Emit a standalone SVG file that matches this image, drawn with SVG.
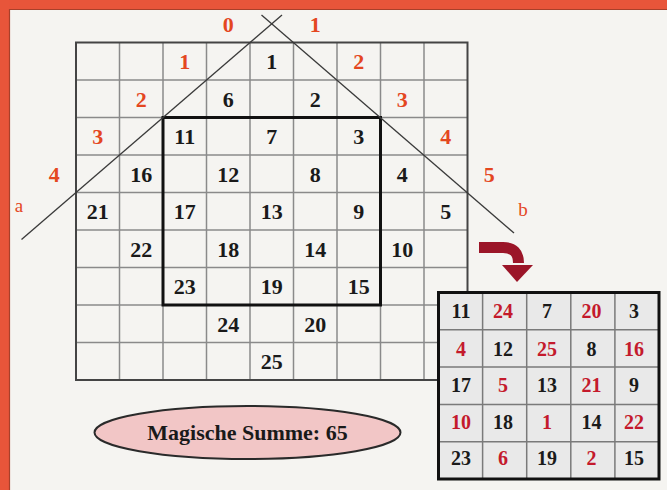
<svg xmlns="http://www.w3.org/2000/svg" width="667" height="490" viewBox="0 0 667 490">
<style>
.n{font-family:"Liberation Serif","Times New Roman",serif;font-weight:bold;font-size:22px;text-anchor:middle;fill:#1a1a1a}
.r{fill:#e4471f}
.s{font-family:"Liberation Serif","Times New Roman",serif;font-weight:bold;font-size:20px;text-anchor:middle;fill:#1a1a1a}
.sr{fill:#c41a2c}
.lbl{font-family:"Liberation Serif","Times New Roman",serif;font-size:19px;text-anchor:middle;fill:#e4471f}
.gl{stroke:#8a8a8a;stroke-width:1.5;fill:none}
.diag{stroke:#3a3a3a;stroke-width:1.3;fill:none}
</style>
<rect x="0" y="0" width="667" height="490" fill="#f5f4f1"/>
<g id="frame">
<rect x="0" y="0" width="667" height="9.5" fill="#e8553a"/>
<rect x="0" y="0" width="9.5" height="490" fill="#e8553a"/>
<path d="M9.5,490 V9.5 H667" stroke="#a8402a" stroke-width="1.2" fill="none"/>
</g>
<g id="big-grid">
<path class="gl" d="M119.5,42.5V380M163,42.5V380M206.5,42.5V380M250,42.5V380M293.5,42.5V380M337,42.5V380M380.5,42.5V380M424,42.5V380M76,80H467.5M76,117.5H467.5M76,155H467.5M76,192.5H467.5M76,230H467.5M76,267.5H467.5M76,305H467.5M76,342.5H467.5"/>
<rect x="76" y="42.5" width="391.5" height="337.5" fill="none" stroke="#444" stroke-width="2"/>
<rect x="163" y="117.5" width="217.5" height="187.5" fill="none" stroke="#111" stroke-width="3"/>
</g>
<g id="diagonals">
<line class="diag" x1="21.5" y1="239.5" x2="282" y2="15"/>
<line class="diag" x1="261.5" y1="15" x2="514" y2="233"/>
</g>
<g id="big-numbers">
<text class="n r" x="228.25" y="32">0</text>
<text class="n r" x="315.25" y="32">1</text>
<text class="n r" x="184.75" y="69">1</text>
<text class="n" x="271.75" y="69">1</text>
<text class="n r" x="358.75" y="69">2</text>
<text class="n r" x="141.25" y="107">2</text>
<text class="n" x="228.25" y="107">6</text>
<text class="n" x="315.25" y="107">2</text>
<text class="n r" x="402.25" y="107">3</text>
<text class="n r" x="97.75" y="144">3</text>
<text class="n" x="184.75" y="144">11</text>
<text class="n" x="271.75" y="144">7</text>
<text class="n" x="358.75" y="144">3</text>
<text class="n r" x="445.75" y="144">4</text>
<text class="n r" x="54.25" y="182">4</text>
<text class="n" x="141.25" y="182">16</text>
<text class="n" x="228.25" y="182">12</text>
<text class="n" x="315.25" y="182">8</text>
<text class="n" x="402.25" y="182">4</text>
<text class="n r" x="489.25" y="182">5</text>
<text class="lbl" x="19" y="212">a</text>
<text class="lbl" x="523" y="216">b</text>
<text class="n" x="97.75" y="219">21</text>
<text class="n" x="184.75" y="219">17</text>
<text class="n" x="271.75" y="219">13</text>
<text class="n" x="358.75" y="219">9</text>
<text class="n" x="445.75" y="219">5</text>
<text class="n" x="141.25" y="257">22</text>
<text class="n" x="228.25" y="257">18</text>
<text class="n" x="315.25" y="257">14</text>
<text class="n" x="402.25" y="257">10</text>
<text class="n" x="184.75" y="294">23</text>
<text class="n" x="271.75" y="294">19</text>
<text class="n" x="358.75" y="294">15</text>
<text class="n" x="228.25" y="332">24</text>
<text class="n" x="315.25" y="332">20</text>
<text class="n" x="271.75" y="369">25</text>
</g>
<g id="arrow">
<path d="M479,247.5 H503 Q518.5,247.5 518.5,263" stroke="#9b1528" stroke-width="11" fill="none"/>
<polygon points="502,265 533,265 517,282" fill="#9b1528"/>
</g>
<g id="small-grid">
<rect x="438.5" y="292.5" width="220.5" height="186.5" fill="#e9e9e9"/>
<path d="M482.6,292.5V479M526.7,292.5V479M570.8,292.5V479M614.9,292.5V479M438.5,329.8H659M438.5,367.1H659M438.5,404.4H659M438.5,441.7H659" stroke="#7a7a7a" stroke-width="1.5" fill="none"/>
<rect x="438.5" y="292.5" width="220.5" height="186.5" fill="none" stroke="#111" stroke-width="3"/>
<text class="s" x="461" y="318">11</text>
<text class="s sr" x="503" y="318">24</text>
<text class="s" x="547" y="318">7</text>
<text class="s sr" x="591.5" y="318">20</text>
<text class="s" x="634" y="318">3</text>
<text class="s sr" x="461" y="356">4</text>
<text class="s" x="503" y="356">12</text>
<text class="s sr" x="547" y="356">25</text>
<text class="s" x="591.5" y="356">8</text>
<text class="s sr" x="634" y="356">16</text>
<text class="s" x="461" y="392">17</text>
<text class="s sr" x="503" y="392">5</text>
<text class="s" x="547" y="392">13</text>
<text class="s sr" x="591.5" y="392">21</text>
<text class="s" x="634" y="392">9</text>
<text class="s sr" x="461" y="429">10</text>
<text class="s" x="503" y="429">18</text>
<text class="s sr" x="547" y="429">1</text>
<text class="s" x="591.5" y="429">14</text>
<text class="s sr" x="634" y="429">22</text>
<text class="s" x="461" y="465">23</text>
<text class="s sr" x="503" y="465">6</text>
<text class="s" x="547" y="465">19</text>
<text class="s sr" x="591.5" y="465">2</text>
<text class="s" x="634" y="465">15</text>
</g>
<g id="sum">
<ellipse cx="247.5" cy="432.5" rx="153" ry="26.5" fill="#f2c6c6" stroke="#2a2a2a" stroke-width="2"/>
<text x="247.5" y="440" font-family="'Liberation Serif','Times New Roman',serif" font-weight="bold" font-size="22" text-anchor="middle" fill="#1a1a1a">Magische Summe: 65</text>
</g>
</svg>
